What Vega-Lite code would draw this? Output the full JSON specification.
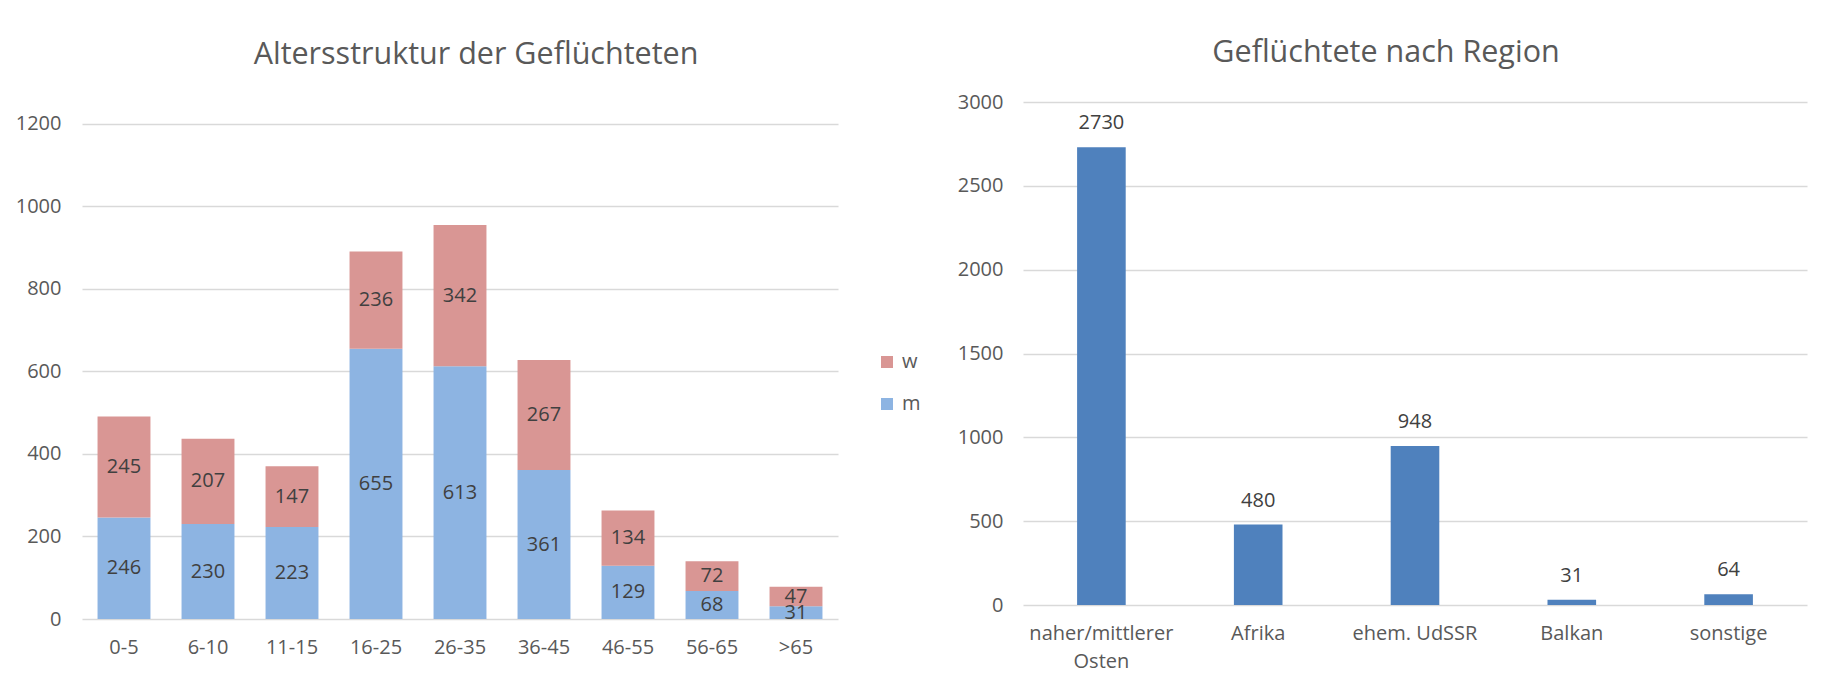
{
  "$schema": "https://vega.github.io/schema/vega-lite/v6.json",
  "background": "white",
  "padding": {"left": 15, "top": 37, "right": 5, "bottom": 5},
  "spacing": 119,
  "config": {
    "view": {"stroke": null},
    "font": "Open Sans",
    "axis": {
      "domain": false,
      "ticks": false,
      "gridColor": "#d9d9d9",
      "gridWidth": 1.5,
      "labelColor": "#595959",
      "labelFontSize": 20,
      "labelFont": "Open Sans",
      "title": null
    },
    "title": {"font": "Open Sans", "fontSize": 30.5, "fontWeight": "normal", "color": "#595959", "anchor": "middle"}
  },
  "hconcat": [
    {
      "width": 756,
      "height": 517,
      "title": {"text": "Altersstruktur der Geflüchteten", "dx": 16, "offset": 32},
      "data": {"values": [
        {"age": "0-5", "sex": "m", "n": 246}, {"age": "0-5", "sex": "w", "n": 245},
        {"age": "6-10", "sex": "m", "n": 230}, {"age": "6-10", "sex": "w", "n": 207},
        {"age": "11-15", "sex": "m", "n": 223}, {"age": "11-15", "sex": "w", "n": 147},
        {"age": "16-25", "sex": "m", "n": 655}, {"age": "16-25", "sex": "w", "n": 236},
        {"age": "26-35", "sex": "m", "n": 613}, {"age": "26-35", "sex": "w", "n": 342},
        {"age": "36-45", "sex": "m", "n": 361}, {"age": "36-45", "sex": "w", "n": 267},
        {"age": "46-55", "sex": "m", "n": 129}, {"age": "46-55", "sex": "w", "n": 134},
        {"age": "56-65", "sex": "m", "n": 68}, {"age": "56-65", "sex": "w", "n": 72},
        {"age": ">65", "sex": "m", "n": 31}, {"age": ">65", "sex": "w", "n": 47}
      ]},
      "encoding": {
        "x": {"field": "age", "type": "nominal", "sort": null,
              "scale": {"paddingInner": 0.37, "paddingOuter": 0.185},
              "axis": {"labelAngle": 0, "labelPadding": 18, "grid": false}},
        "y": {"field": "n", "type": "quantitative", "stack": "zero",
              "scale": {"domain": [0, 1253.3], "nice": false},
              "axis": {"values": [0, 200, 400, 600, 800, 1000, 1200], "format": "d", "labelPadding": 21, "grid": true}},
        "order": {"field": "sex", "sort": "ascending"}
      },
      "layer": [
        {
          "mark": {"type": "bar"},
          "encoding": {
            "color": {"field": "sex", "type": "nominal",
                      "scale": {"domain": ["w", "m"], "range": ["#d99694", "#8db4e2"]},
                      "legend": {"title": null, "orient": "none", "legendX": 795, "legendY": 250,
                                 "symbolType": "square", "symbolSize": 144, "symbolStrokeWidth": 0,
                                 "labelFontSize": 20, "labelColor": "#595959", "rowPadding": 22, "labelOffset": 5}}
          }
        },
        {
          "mark": {"type": "text", "fontSize": 20, "color": "#404040", "baseline": "middle"},
          "encoding": {
            "y": {"field": "n", "type": "quantitative", "stack": "zero", "bandPosition": 0.5},
            "text": {"field": "n", "type": "quantitative", "format": "d"}
          }
        }
      ]
    },
    {
      "width": 784,
      "height": 503,
      "title": {"text": "Geflüchtete nach Region", "dx": -29, "offset": 24},
      "data": {"values": [
        {"region": "naher/mittlerer Osten", "n": 2730},
        {"region": "Afrika", "n": 480},
        {"region": "ehem. UdSSR", "n": 948},
        {"region": "Balkan", "n": 31},
        {"region": "sonstige", "n": 64}
      ]},
      "encoding": {
        "x": {"field": "region", "type": "nominal", "sort": null,
              "scale": {"paddingInner": 0.69, "paddingOuter": 0.345},
              "axis": {"labelAngle": 0, "labelPadding": 18, "grid": false, "labelLineHeight": 28,
                       "labelExpr": "datum.value == 'naher/mittlerer Osten' ? ['naher/mittlerer', 'Osten'] : datum.value"}},
        "y": {"field": "n", "type": "quantitative",
              "scale": {"domain": [0, 3000], "nice": false},
              "axis": {"values": [0, 500, 1000, 1500, 2000, 2500, 3000], "format": "d", "labelPadding": 20, "grid": true}}
      },
      "layer": [
        {"mark": {"type": "bar", "color": "#4f81bd"}},
        {"mark": {"type": "text", "fontSize": 20, "color": "#404040", "baseline": "bottom", "dy": -14},
         "encoding": {"text": {"field": "n", "type": "quantitative", "format": "d"}}}
      ]
    }
  ]
}
